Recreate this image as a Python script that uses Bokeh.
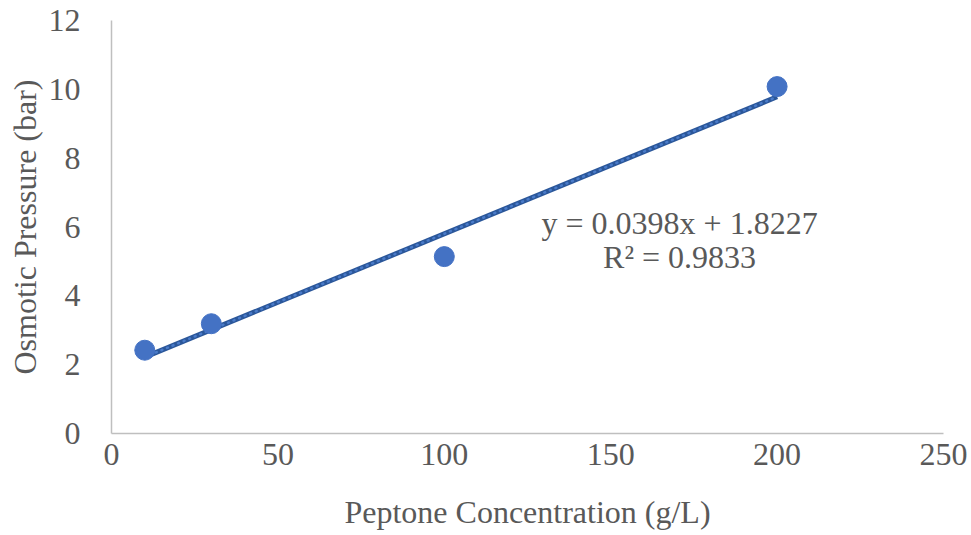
from bokeh.plotting import figure
from bokeh.models import Range1d, ColumnDataSource, FixedTicker
from bokeh.core.properties import value
from bokeh.embed import file_html
from bokeh.resources import INLINE

# Measured osmotic pressure for each peptone concentration
concentration = [10, 30, 100, 200]
pressure = [2.42, 3.19, 5.14, 10.08]

# Linear fit shown on the chart
slope = 0.0398
intercept = 1.8227
r_squared = 0.9833

x_ticks = [0, 50, 100, 150, 200, 250]
y_ticks = [0, 2, 4, 6, 8, 10, 12]

FONT = "Liberation Serif"
TEXT_COLOR = "#595959"
FONT_SIZE = "32px"

p = figure(width=971, height=535, output_backend="svg", toolbar_location=None,
           x_range=Range1d(0, 250), y_range=Range1d(0, 12),
           min_border_left=111, min_border_right=28,
           min_border_top=20, min_border_bottom=102)
p.outline_line_color = None
p.grid.visible = False
p.background_fill_color = "white"
p.border_fill_color = "white"

for ax in (p.xaxis[0], p.yaxis[0]):
    ax.axis_line_color = "#BFBFBF"
    ax.axis_line_width = 1.5
    ax.major_tick_line_color = None
    ax.minor_tick_line_color = None
    ax.major_label_text_font = FONT
    ax.major_label_text_font_size = FONT_SIZE
    ax.major_label_text_color = TEXT_COLOR
    ax.axis_label_text_font = FONT
    ax.axis_label_text_font_size = FONT_SIZE
    ax.axis_label_text_color = TEXT_COLOR
    ax.axis_label_text_font_style = "normal"

p.xaxis.ticker = FixedTicker(ticks=x_ticks)
p.yaxis.ticker = FixedTicker(ticks=y_ticks)
p.xaxis.axis_label = "Peptone Concentration (g/L)"
p.yaxis.axis_label = "Osmotic Pressure (bar)"
p.xaxis.major_label_standoff = 4
p.yaxis.major_label_standoff = 25
p.xaxis.axis_label_standoff = 26
p.yaxis.axis_label_standoff = 3

# Trendline over the measured range
x_fit = [min(concentration), max(concentration)]
y_fit = [slope * x + intercept for x in x_fit]
p.line(x_fit, y_fit, line_color="#2B579A", line_width=5)
p.line(x_fit, y_fit, line_color="#4A7BC9", line_width=2.5,
       line_dash="1 5", line_cap="round")

src = ColumnDataSource(dict(x=concentration, y=pressure))
p.scatter("x", "y", source=src, size=20, fill_color="#4472C4",
          line_color="#4472C4")

# Fit equation labels
eq_src = ColumnDataSource(dict(
    x=[170.7, 170.7],
    y=[6.13, 5.13],
    t=[f"y = {slope}x + {intercept}", f"R² = {r_squared}"],
))
p.text("x", "y", text="t", source=eq_src, text_font=value(FONT),
       text_font_size=FONT_SIZE, text_color=TEXT_COLOR,
       text_align="center", text_baseline="middle")

open("out.html", "w").write(file_html(p, INLINE))
